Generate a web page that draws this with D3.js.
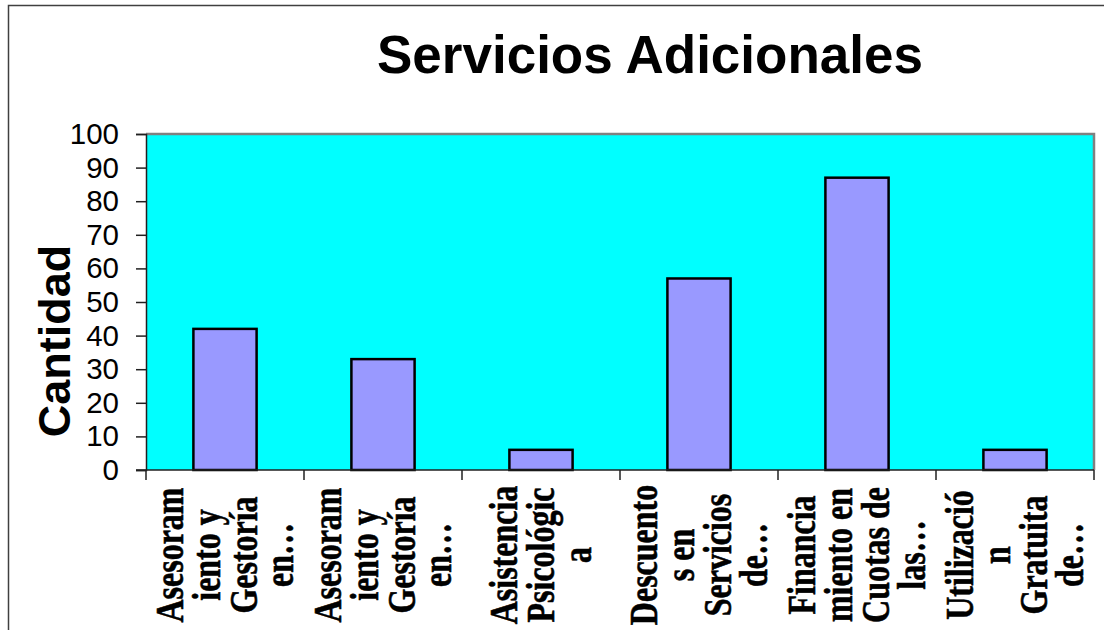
<!DOCTYPE html>
<html>
<head>
<meta charset="utf-8">
<script src="https://cdn.jsdelivr.net/npm/d3@7"></script>
<style>
  body { margin: 0; background: #fff; }
  svg { display: block; }
</style>
</head>
<body>
<div id="chart"></div>
<script>
const SIZE = { width: 1104, height: 630 }
const PLOT = { left: 146, right: 1094, top: 134, bottom: 470 }

// data
const categories = ["c1", "c2", "c3", "c4", "c5", "c6"]
const labelLines = [
  ["Asesoram", "iento y", "Gestoría", "en…"],
  ["Asesoram", "iento y", "Gestoría", "en…"],
  ["Asistencia", "Psicológic", "a"],
  ["Descuento", "s en", "Servicios", "de…"],
  ["Financia", "miento en", "Cuotas de", "las…"],
  ["Utilizació", "n", "Gratuita", "de…"],
]
const values = [42, 33, 6, 57, 87, 6]
const yTicks = [0, 10, 20, 30, 40, 50, 60, 70, 80, 90, 100]

const svg = d3.select("#chart").append("svg")
    .attr("width", SIZE.width)
    .attr("height", SIZE.height);

// outer chart border (right/bottom run off the picture)
svg.append("path")
    .attr("d", `M8.5,${SIZE.height + 5} V5.5 H${SIZE.width + 5}`)
    .attr("fill", "none")
    .attr("stroke", "#404040")
    .attr("stroke-width", 1.5);

svg.append("text")
    .attr("x", 650).attr("y", 73)
    .attr("text-anchor", "middle")
    .style("font-family", "Arial, 'Liberation Sans', sans-serif")
    .style("font-weight", "bold")
    .style("font-size", "53px")
    .text("Servicios Adicionales");

const xScale = d3.scaleBand().domain(categories)
    .range([PLOT.left, PLOT.right])
    .paddingInner(0.6).paddingOuter(0.3);
const yScale = d3.scaleLinear().domain([0, 100]).range([PLOT.bottom, PLOT.top]);

// plot area
svg.append("rect")
    .attr("x", PLOT.left).attr("y", PLOT.top)
    .attr("width", PLOT.right - PLOT.left).attr("height", PLOT.bottom - PLOT.top)
    .attr("fill", "#00FFFF");
svg.append("path")
    .attr("d", `M${PLOT.left},${PLOT.top} H${PLOT.right} V${PLOT.bottom}`)
    .attr("fill", "none").attr("stroke", "#808080").attr("stroke-width", 2.5);

svg.selectAll(".bar").data(values).enter().append("rect")
    .attr("class", "bar")
    .attr("x", (d, i) => xScale(categories[i]))
    .attr("y", d => yScale(d))
    .attr("width", xScale.bandwidth())
    .attr("height", d => yScale(0) - yScale(d))
    .attr("fill", "#9999FF")
    .attr("stroke", "#000")
    .attr("stroke-width", 2.5);

// y axis
const yAxis = d3.axisLeft(yScale).tickValues(yTicks).tickSize(10).tickPadding(17);
const yG = svg.append("g")
    .attr("transform", `translate(${PLOT.left}, 0)`)
    .call(yAxis);
yG.select(".domain").attr("stroke", "#202020").attr("stroke-width", 1.5);
yG.selectAll(".tick line").attr("stroke", "#202020").attr("stroke-width", 1.5);
yG.selectAll(".tick text")
    .style("font-family", "Arial, 'Liberation Sans', sans-serif")
    .style("font-size", "29.5px")
    .attr("fill", "#000");

// x axis: ticks between categories
const step = xScale.step();
const xG = svg.append("g");
xG.append("line")
    .attr("x1", PLOT.left - 10).attr("x2", PLOT.right)
    .attr("y1", PLOT.bottom).attr("y2", PLOT.bottom)
    .attr("stroke", "#202020").attr("stroke-width", 1.5);
xG.selectAll(".xtick").data(d3.range(categories.length + 1)).enter().append("line")
    .attr("x1", i => PLOT.left + i * step).attr("x2", i => PLOT.left + i * step)
    .attr("y1", PLOT.bottom).attr("y2", PLOT.bottom + 10)
    .attr("stroke", "#202020").attr("stroke-width", 1.5);

// rotated, wrapped category labels
const LINE_H = 37, CAP = 26;
const lbl = xG.selectAll(".xlabel").data(labelLines).enter().append("g")
    .attr("class", "xlabel")
    .attr("transform", (d, i) =>
      `translate(${xScale(categories[i]) + xScale.bandwidth() / 2}, 555) rotate(-90) scale(0.82, 1)`);
lbl.selectAll("text").data(d => d.map((t, j) => ({ t, j, n: d.length }))).enter().append("text")
    .attr("text-anchor", "middle")
    .attr("x", 0)
    .attr("y", d => (CAP - (d.n - 1) * LINE_H) / 2 + d.j * LINE_H)
    .style("font-family", "'Times New Roman', 'Liberation Serif', serif")
    .style("font-weight", "bold")
    .style("font-size", "39px")
    .attr("stroke", "#000")
    .attr("stroke-width", 0.6)
    .text(d => d.t);

svg.append("text")
    .attr("transform", "translate(70, 341) rotate(-90)")
    .attr("text-anchor", "middle")
    .style("font-family", "Arial, 'Liberation Sans', sans-serif")
    .style("font-weight", "bold")
    .style("font-size", "45px")
    .text("Cantidad");
</script>
</body>
</html>
